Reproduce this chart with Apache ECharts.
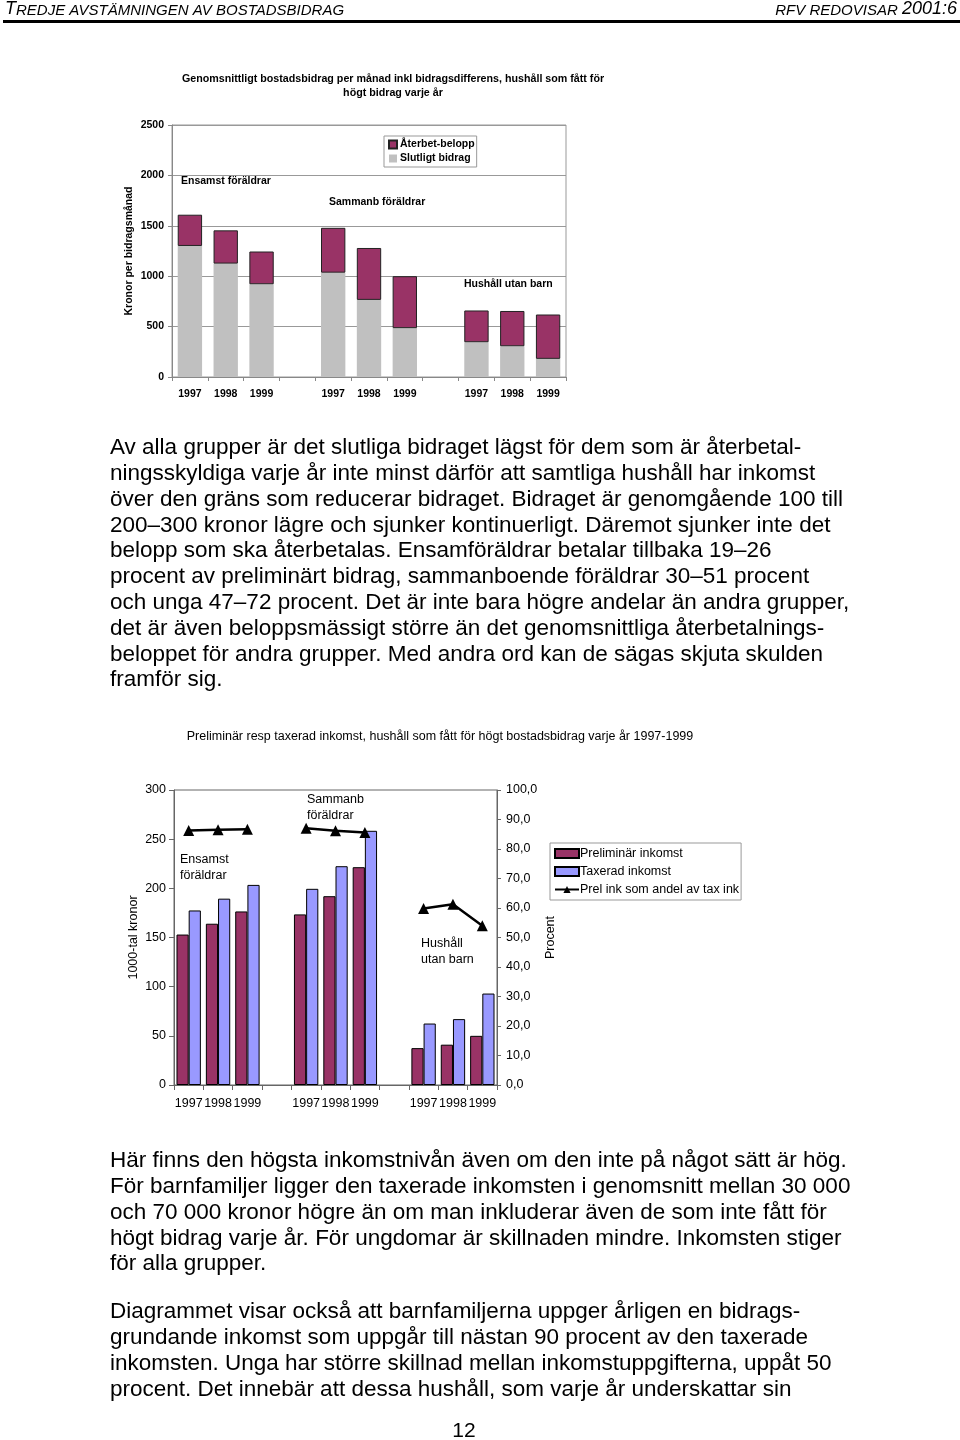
<!DOCTYPE html>
<html><head><meta charset="utf-8">
<script src="https://cdn.jsdelivr.net/npm/echarts@6/dist/echarts.min.js"></script>
<style>html,body{margin:0;padding:0;background:#fff}#c{width:960px;height:1440px}</style>
</head><body><div id="c"></div>
<script>
// ---- Data ----
const categories = ['1997','1998','1999','','1997','1998','1999','','1997','1998','1999'];
// Chart 1: kronor per bidragsmånad
const slutligtBidrag = [1300, 1125, 920, null, 1035, 765, 485, null, 345, 305, 180];
const aterbetBelopp  = [310, 330, 325, null, 445, 515, 515, null, 315, 350, 440];
// Chart 2: 1000-tal kronor / procent
const prelInkomst = [153, 164, 176.5, null, 173.5, 192, 221.5, null, 37.5, 41, 50];
const taxInkomst  = [177.5, 189.5, 203.5, null, 199.5, 222.5, 258.5, null, 62.5, 67, 93];
const prelAndel   = [86.3, 86.5, 86.7, null, 87.0, 86.2, 85.6, null, 59.8, 61.3, 54.0];

const title1 = ['Genomsnittligt bostadsbidrag per månad inkl bidragsdifferens, hushåll som fått för', 'högt bidrag varje år'];
const title2 = 'Preliminär resp taxerad inkomst, hushåll som fått för högt bostadsbidrag varje år 1997-1999';

const para1 = [
 'Av alla grupper är det slutliga bidraget lägst för dem som är återbetal-',
 'ningsskyldiga varje år inte minst därför att samtliga hushåll har inkomst',
 'över den gräns som reducerar bidraget. Bidraget är genomgående 100 till',
 '200–300 kronor lägre och sjunker kontinuerligt. Däremot sjunker inte det',
 'belopp som ska återbetalas. Ensamföräldrar betalar tillbaka 19–26',
 'procent av preliminärt bidrag, sammanboende föräldrar 30–51 procent',
 'och unga 47–72 procent. Det är inte bara högre andelar än andra grupper,',
 'det är även beloppsmässigt större än det genomsnittliga återbetalnings-',
 'beloppet för andra grupper. Med andra ord kan de sägas skjuta skulden',
 'framför sig.'
];
const para2 = [
 'Här finns den högsta inkomstnivån även om den inte på något sätt är hög.',
 'För barnfamiljer ligger den taxerade inkomsten i genomsnitt mellan 30 000',
 'och 70 000 kronor högre än om man inkluderar även de som inte fått för',
 'högt bidrag varje år. För ungdomar är skillnaden mindre. Inkomsten stiger',
 'för alla grupper.'
];
const para3 = [
 'Diagrammet visar också att barnfamiljerna uppger årligen en bidrags-',
 'grundande inkomst som uppgår till nästan 90 procent av den taxerade',
 'inkomsten. Unga har större skillnad mellan inkomstuppgifterna, uppåt 50',
 'procent. Det innebär att dessa hushåll, som varje år underskattar sin'
];

// ---- Styles ----
const FONT = '"Liberation Sans", Arial, sans-serif';
const MAROON = '#993366', GREY = '#C0C0C0', BLUE = '#9999FF';
const F1 = 10.5, F2 = 12.5, FB = 22.5;

function txt(x, y, s, size, opts) {
  return Object.assign({
    type: 'text', x: x, y: y, silent: true,
    style: Object.assign({ text: s, fontSize: size, fontFamily: FONT, fill: '#000', verticalAlign: 'middle', align: 'left' }, (opts||{}).style || {})
  }, (opts||{}).el || {});
}
const graphics = [];
// header
const hdrRich = { a: { fontSize: 18, fontStyle: 'italic', fontFamily: FONT, verticalAlign: 'bottom' }, b: { fontSize: 15, fontStyle: 'italic', fontFamily: FONT, verticalAlign: 'bottom' } };
graphics.push({ type: 'text', x: 5, y: 18, silent: true, style: {
  text: '{a|T}{b|REDJE AVSTÄMNINGEN AV BOSTADSBIDRAG}', fontFamily: FONT, verticalAlign: 'bottom', fill: '#000', rich: hdrRich } });
graphics.push({ type: 'text', x: 957, y: 18, silent: true, style: {
  text: '{b|RFV REDOVISAR }{a|2001:6}', fontFamily: FONT, verticalAlign: 'bottom', align: 'right', fill: '#000', rich: hdrRich } });
graphics.push({ type: 'rect', silent: true, shape: { x: 3, y: 20, width: 957, height: 3 }, style: { fill: '#000' } });
// chart titles
graphics.push(txt(393, 79, title1[0], 10.7, { style: { fontWeight: 'bold', align: 'center' } }));
graphics.push(txt(393, 93, title1[1], 10.7, { style: { fontWeight: 'bold', align: 'center' } }));
graphics.push(txt(440, 737, title2, F2, { style: { align: 'center' } }));
// chart 1 annotations
graphics.push(txt(181, 181, 'Ensamst föräldrar', F1, { style: { fontWeight: 'bold' } }));
graphics.push(txt(329, 202, 'Sammanb föräldrar', F1, { style: { fontWeight: 'bold' } }));
graphics.push(txt(464, 284, 'Hushåll utan barn', F1, { style: { fontWeight: 'bold' } }));
// chart 2 annotations
graphics.push(txt(180, 860, 'Ensamst', F2));
graphics.push(txt(180, 876, 'föräldrar', F2));
graphics.push(txt(307, 800, 'Sammanb', F2));
graphics.push(txt(307, 816, 'föräldrar', F2));
graphics.push(txt(421, 944, 'Hushåll', F2));
graphics.push(txt(421, 960, 'utan barn', F2));
// paragraphs
const LH = 25.8;
para1.forEach((s, i) => graphics.push(txt(110, 448 + i * LH, s, FB)));
para2.forEach((s, i) => graphics.push(txt(110, 1161 + i * LH, s, FB)));
para3.forEach((s, i) => graphics.push(txt(110, 1312 + i * LH, s, FB)));
graphics.push(txt(464, 1431, '12', 21, { style: { align: 'center' } }));

const chart = echarts.init(document.getElementById('c'), null, { renderer: 'canvas' });
chart.setOption({
  animation: false,
  backgroundColor: '#fff',
  textStyle: { fontFamily: FONT },
  grid: [
    { left: 172, top: 125, width: 394, height: 252, show: true, borderColor: '#999', borderWidth: 1, backgroundColor: 'transparent' },
    { left: 174, top: 790, width: 323, height: 295, show: true, borderColor: '#666', borderWidth: 1, backgroundColor: 'transparent' }
  ],
  xAxis: [
    { type: 'category', gridIndex: 0, data: categories, boundaryGap: true,
      axisLine: { lineStyle: { color: '#888' } }, axisTick: { show: true, length: 4, lineStyle: { color: '#888' } },
      axisLabel: { interval: 0, fontSize: F1, fontWeight: 'bold', color: '#000', margin: 12, fontFamily: FONT } },
    { type: 'category', gridIndex: 1, data: categories, boundaryGap: true,
      axisLine: { lineStyle: { color: '#666' } }, axisTick: { show: true, length: 5, lineStyle: { color: '#666' } },
      axisLabel: { interval: 0, fontSize: F2, color: '#000', margin: 12, fontFamily: FONT } }
  ],
  yAxis: [
    { type: 'value', gridIndex: 0, min: 0, max: 2500, interval: 500,
      name: 'Kronor per bidragsmånad', nameLocation: 'middle', nameGap: 37,
      nameTextStyle: { fontSize: F1, fontWeight: 'bold', color: '#000', fontFamily: FONT },
      axisLine: { show: true, lineStyle: { color: '#888' } }, axisTick: { show: true, length: 4, lineStyle: { color: '#888' } },
      splitLine: { show: true, lineStyle: { color: '#999', width: 1 } },
      axisLabel: { fontSize: F1, fontWeight: 'bold', color: '#000', margin: 8, fontFamily: FONT, formatter: v => String(v) } },
    { type: 'value', gridIndex: 1, min: 0, max: 300, interval: 50,
      name: '1000-tal kronor', nameLocation: 'middle', nameGap: 34,
      nameTextStyle: { fontSize: F2, color: '#000', fontFamily: FONT },
      axisLine: { show: true, lineStyle: { color: '#666' } }, axisTick: { show: true, length: 5, lineStyle: { color: '#666' } },
      splitLine: { show: false },
      axisLabel: { fontSize: F2, color: '#000', margin: 8, fontFamily: FONT } },
    { type: 'value', gridIndex: 1, position: 'right', min: 0, max: 100, interval: 10,
      name: 'Procent', nameLocation: 'middle', nameGap: 47,
      nameTextStyle: { fontSize: F2, color: '#000', fontFamily: FONT },
      axisLine: { show: true, lineStyle: { color: '#666' } }, axisTick: { show: true, length: 4, lineStyle: { color: '#666' } },
      splitLine: { show: false },
      axisLabel: { fontSize: F2, color: '#000', margin: 9, fontFamily: FONT, formatter: v => v.toFixed(1).replace('.', ',') } }
  ],
  legend: [
    { left: 384, top: 136, orient: 'vertical', itemWidth: 8, itemHeight: 8, itemGap: 3, padding: [3, 2, 3, 4],
      borderColor: '#999', borderWidth: 1, backgroundColor: '#fff', selectedMode: false,
      data: [{ name: 'Återbet-belopp', icon: 'rect' }, { name: 'Slutligt bidrag', icon: 'rect' }],
      textStyle: { fontSize: F1, fontWeight: 'bold', color: '#000', fontFamily: FONT, padding: [0, 0, 0, -2] } },
    { left: 550, top: 843, orient: 'vertical', itemWidth: 24, itemHeight: 9, itemGap: 5, padding: [4, 2, 4, 4],
      borderColor: '#999', borderWidth: 1, backgroundColor: '#fff', selectedMode: false,
      data: [{ name: 'Preliminär inkomst', icon: 'rect' }, { name: 'Taxerad inkomst', icon: 'rect' }, { name: 'Prel ink som andel av tax ink' }],
      textStyle: { fontSize: F2, color: '#000', fontFamily: FONT, padding: [0, 0, 0, -4] } }
  ],
  graphic: graphics,
  series: [
    { name: 'Slutligt bidrag', type: 'bar', xAxisIndex: 0, yAxisIndex: 0, stack: 's1', data: slutligtBidrag,
      barCategoryGap: '32%', itemStyle: { color: GREY } },
    { name: 'Återbet-belopp', type: 'bar', xAxisIndex: 0, yAxisIndex: 0, stack: 's1', data: aterbetBelopp,
      itemStyle: { color: MAROON, borderColor: '#222', borderWidth: 1 } },
    { name: 'Preliminär inkomst', type: 'bar', xAxisIndex: 1, yAxisIndex: 1, data: prelInkomst,
      barGap: '0%', barCategoryGap: '17%', itemStyle: { color: MAROON, borderColor: '#000', borderWidth: 1 } },
    { name: 'Taxerad inkomst', type: 'bar', xAxisIndex: 1, yAxisIndex: 1, data: taxInkomst,
      itemStyle: { color: BLUE, borderColor: '#000', borderWidth: 1 } },
    { name: 'Prel ink som andel av tax ink', type: 'line', xAxisIndex: 1, yAxisIndex: 2, data: prelAndel,
      symbol: 'triangle', symbolSize: 11, connectNulls: false,
      lineStyle: { color: '#000', width: 2.5 }, itemStyle: { color: '#000' } }
  ]
});
</script></body></html>
